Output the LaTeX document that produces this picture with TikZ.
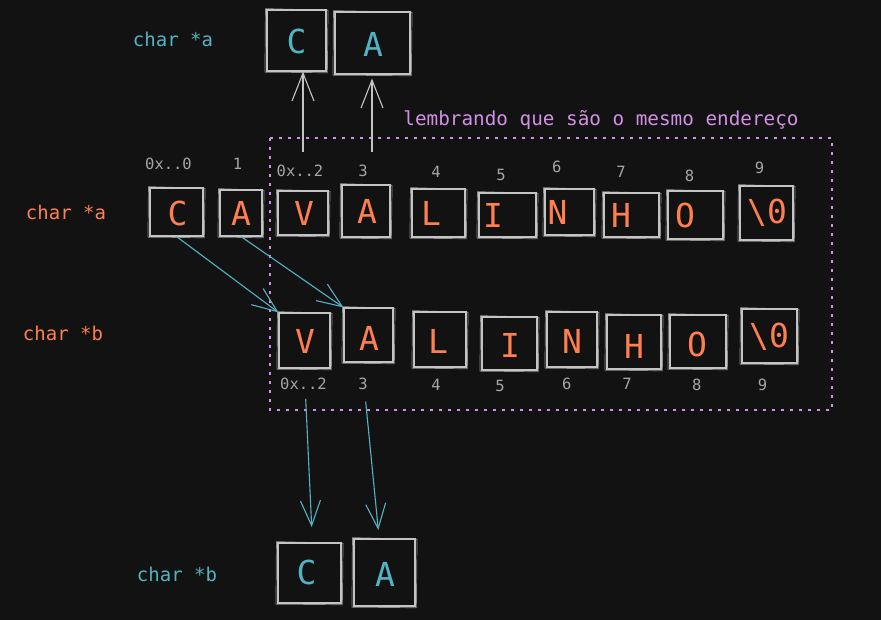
\documentclass[tikz,border=0pt]{standalone}
\usepackage{fontspec}
\setmainfont{DejaVu Sans Mono}
\usetikzlibrary{arrows.meta}
\definecolor{bg}{HTML}{121212}
\definecolor{orng}{HTML}{FF7F50}
\definecolor{cyn}{HTML}{52B3C4}
\definecolor{boxgray}{HTML}{C4C4C4}
\definecolor{idxgray}{HTML}{A6A6A6}
\definecolor{lav}{HTML}{D48FE6}
\newcommand\skb[1]{\draw[skl] ([shift={(-1,-0.8)}]#1.north west) -- ([shift={(1.5,0.8)}]#1.north east) -- ([shift={(0.8,1.2)}]#1.south east) -- ([shift={(-1.5,0.6)}]#1.south west) -- cycle;}
\begin{document}
\begin{tikzpicture}[x=1pt,y=-1pt,
  cbox/.style={draw=boxgray, line width=1.1pt, inner sep=0pt},
  skl/.style={draw=boxgray, line width=0.7pt, opacity=0.7},
  olet/.style={inner sep=0pt, text=orng, font=\fontsize{33}{33}\selectfont},
  clet/.style={inner sep=0pt, text=cyn, font=\fontsize{33}{33}\selectfont},
  idx/.style={inner sep=0pt, anchor=base, text=idxgray, font=\fontsize{15.5}{15.5}\selectfont},
  lbl/.style={inner sep=0pt, anchor=base, font=\fontsize{19}{19}\selectfont},
  garr/.style={draw=boxgray, line width=1.1pt, -{Straight Barb[length=28pt,width=22pt]}},
  carr/.style={draw=cyn, line width=1.1pt, -{Straight Barb[length=25pt,width=20pt]}},
  memo/.style={draw=lav, line width=1.6pt, dash pattern=on 3pt off 6pt}
]
\fill[bg] (0,0) rectangle (881,620);
\useasboundingbox (0,0) rectangle (881,620);

% dotted region
\node[lbl, text=lav, font=\fontsize{19.3}{19.3}\selectfont] (memtxt) at (601,126) {lembrando que são o mesmo endereço};
\coordinate (m1) at (270,138);
\coordinate (m2) at (832,410);
\draw[memo] (m1) rectangle (m2);

% labels
\node[lbl, text=cyn] (la) at (173,46.5) {char *a};
\node[lbl, text=orng] (lra) at (66,220) {char *a};
\node[lbl, text=orng] (lrb) at (63,340.7) {char *b};
\node[lbl, text=cyn] (lb) at (177,581.7) {char *b};

% top row boxes
\node[cbox, minimum width=53pt, minimum height=48pt] (a1) at (176.5,212) {};
\node[cbox, minimum width=42pt, minimum height=46pt] (a2) at (241,213) {};
\node[cbox, minimum width=50pt, minimum height=44pt] (a3) at (303,213) {};
\node[cbox, minimum width=48pt, minimum height=52pt] (a4) at (366,211) {};
\node[cbox, minimum width=53pt, minimum height=48pt] (a5) at (438.5,213) {};
\node[cbox, minimum width=57pt, minimum height=44pt] (a6) at (507.5,215) {};
\node[cbox, minimum width=49pt, minimum height=46pt] (a7) at (569.5,212) {};
\node[cbox, minimum width=55pt, minimum height=44pt] (a8) at (631.5,215) {};
\node[cbox, minimum width=55pt, minimum height=48pt] (a9) at (695.5,215) {};
\node[cbox, minimum width=53pt, minimum height=54pt] (a10) at (766.5,213) {};
\foreach \n in {a1,a2,a3,a4,a5,a6,a7,a8,a9,a10} {\skb{\n}}
\node[olet] (ta1) at (177.5,213.5) {C};
\node[olet] (ta2) at (241,213) {A};
\node[olet] (ta3) at (304,213) {V};
\node[olet] (ta4) at (367,211) {A};
\node[olet] (ta5) at (431,213.5) {L};
\node[olet] (ta6) at (493,215) {I};
\node[olet] (ta7) at (557.5,212) {N};
\node[olet] (ta8) at (621,215) {H};
\node[olet] (ta9) at (685,215) {O};
\node[olet] (ta10) at (767,213) {\textbackslash 0};

% top indices
\node[idx] (ia1) at (168.5,170) {0x..0};
\node[idx] (ia2) at (237.5,170) {1};
\node[idx] (ia3) at (300,177) {0x..2};
\node[idx] (ia4) at (363,177) {3};
\node[idx] (ia5) at (436,178) {4};
\node[idx] (ia6) at (501,181) {5};
\node[idx] (ia7) at (556.7,173) {6};
\node[idx] (ia8) at (621,178) {7};
\node[idx] (ia9) at (689.5,182) {8};
\node[idx] (ia10) at (759.5,174) {9};

% bottom row boxes
\node[cbox, minimum width=51pt, minimum height=55pt] (b1) at (304.5,340.5) {};
\node[cbox, minimum width=49pt, minimum height=54pt] (b2) at (368.5,335) {};
\node[cbox, minimum width=52pt, minimum height=55pt] (b3) at (440,339.5) {};
\node[cbox, minimum width=55pt, minimum height=53pt] (b4) at (509.5,343.5) {};
\node[cbox, minimum width=50pt, minimum height=55pt] (b5) at (572,339.5) {};
\node[cbox, minimum width=54pt, minimum height=54pt] (b6) at (634,342) {};
\node[cbox, minimum width=56pt, minimum height=53pt] (b7) at (698,341.5) {};
\node[cbox, minimum width=55pt, minimum height=54pt] (b8) at (769.5,336) {};
\foreach \n in {b1,b2,b3,b4,b5,b6,b7,b8} {\skb{\n}}
\node[olet] (tb1) at (305,341) {V};
\node[olet] (tb2) at (369,338) {A};
\node[olet] (tb3) at (438,341) {L};
\node[olet] (tb4) at (510,345) {I};
\node[olet] (tb5) at (572,341) {N};
\node[olet] (tb6) at (634,346) {H};
\node[olet] (tb7) at (697,344) {O};
\node[olet] (tb8) at (769,337) {\textbackslash 0};

% bottom indices
\node[idx] (ib1) at (303.5,389) {0x..2};
\node[idx] (ib2) at (363,389) {3};
\node[idx] (ib3) at (436,390) {4};
\node[idx] (ib4) at (500,391.7) {5};
\node[idx] (ib5) at (566.7,389) {6};
\node[idx] (ib6) at (627,389) {7};
\node[idx] (ib7) at (696.7,390) {8};
\node[idx] (ib8) at (762.5,390) {9};

% top CA
\node[cbox, minimum width=59pt, minimum height=61pt] (tc) at (296.5,40.5) {};
\node[cbox, minimum width=75pt, minimum height=62pt] (tca) at (372.5,43) {};
\skb{tc}\skb{tca}
\node[clet] (ttc) at (296.5,41.5) {C};
\node[clet] (tta) at (373,44.5) {A};

% bottom CA
\node[cbox, minimum width=63pt, minimum height=60pt] (bc) at (309.5,573) {};
\node[cbox, minimum width=61pt, minimum height=67pt] (bca) at (384.5,572.5) {};
\skb{bc}\skb{bca}
\node[clet] (tbc) at (306.5,572) {C};
\node[clet] (tba) at (385,574.5) {A};

% arrows up
\coordinate (u1) at (303,152);
\coordinate (u2) at (372,152);
\draw[garr] (u1) -- (tc.south -| u1);
\draw[garr, shorten >=4pt] (u2) -- (tca.south -| u2);

% diagonal arrows
\draw[carr] (a1.south) -- (b1.north west);
\draw[carr] (a2.south) -- (b2.north west);

% arrows down
\coordinate (d1) at (305.7,399);
\coordinate (e1) at (311.7,527);
\coordinate (d2) at (365.7,401.7);
\coordinate (e2) at (378.3,530);
\draw[carr] (d1) -- (e1);
\draw[carr] (d2) -- (e2);
\end{tikzpicture}
\end{document}
